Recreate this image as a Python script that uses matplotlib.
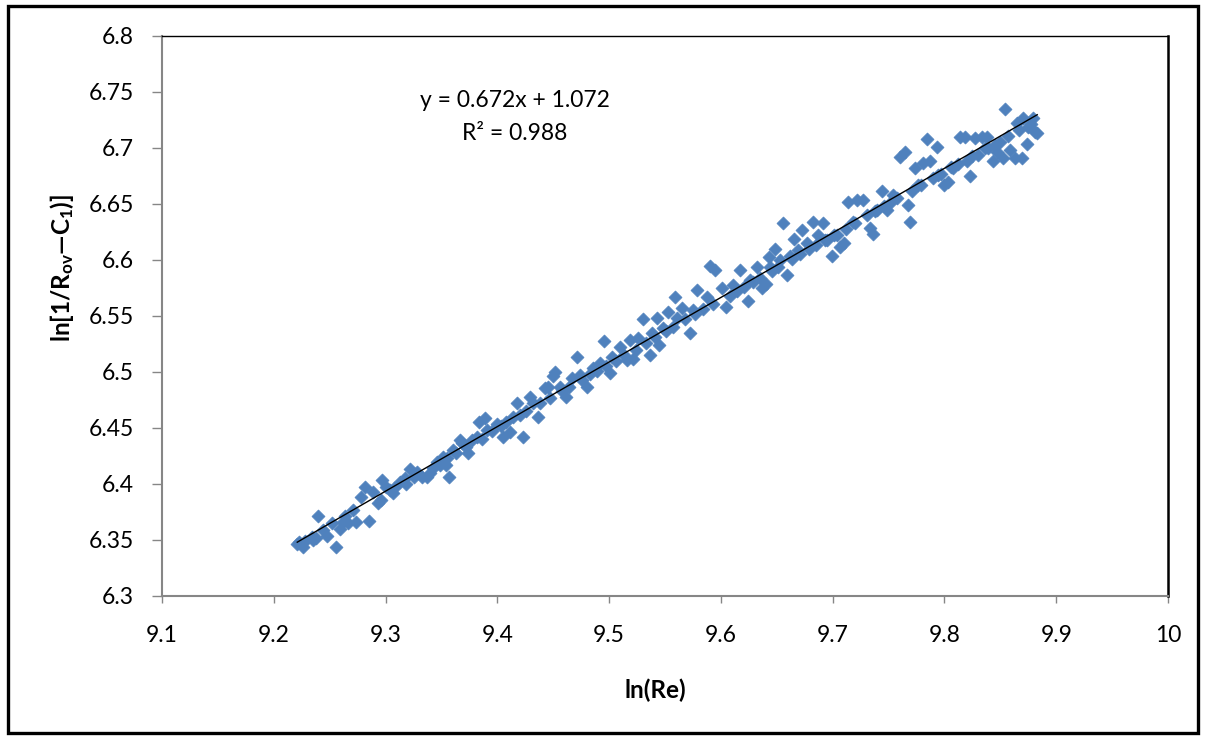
import numpy as np
import matplotlib
matplotlib.use("Agg")
import matplotlib.pyplot as plt
from matplotlib.patches import Rectangle

plt.rcParams['font.family'] = ['Lato', 'DejaVu Sans']
plt.rcParams['mathtext.fontset'] = 'custom'
plt.rcParams['mathtext.rm'] = 'Lato'
plt.rcParams['mathtext.bf'] = 'Lato:bold'
plt.rcParams['mathtext.default'] = 'bf'

# points: ln(Re) and ln[1/(Rov - C1)]
ln_re = [
    9.221, 9.226, 9.223, 9.235, 9.234, 9.240, 9.244, 9.248, 9.252, 9.256,
    9.259, 9.264, 9.266, 9.271, 9.274, 9.278, 9.282, 9.285, 9.289, 9.293,
    9.297, 9.300, 9.307, 9.308, 9.313, 9.317, 9.322, 9.328, 9.333, 9.337,
    9.342, 9.346, 9.349, 9.351, 9.354, 9.357, 9.360, 9.367, 9.368, 9.374,
    9.377, 9.382, 9.384, 9.389, 9.391,
    9.400, 9.405, 9.411, 9.414, 9.418, 9.423, 9.429, 9.432, 9.436, 9.443,
    9.445, 9.450, 9.452, 9.456, 9.461, 9.467, 9.471, 9.474, 9.480, 9.486,
    9.492, 9.495, 9.501, 9.503, 9.510, 9.516, 9.519, 9.521, 9.526, 9.530,
    9.537, 9.538, 9.543, 9.545, 9.548, 9.553, 9.559, 9.561, 9.565, 9.572,
    9.575, 9.579,
    9.588, 9.590, 9.595, 9.601, 9.605, 9.611, 9.617, 9.624, 9.626, 9.632,
    9.637, 9.640, 9.644, 9.643, 9.648, 9.653, 9.656, 9.659, 9.662, 9.665,
    9.669, 9.673, 9.677, 9.682, 9.687, 9.691, 9.695, 9.699, 9.704, 9.707,
    9.710, 9.714, 9.718, 9.722, 9.727, 9.733, 9.736, 9.740, 9.744, 9.749,
    9.754,
    9.760, 9.765, 9.767, 9.769, 9.774, 9.776, 9.781, 9.784, 9.787, 9.793,
    9.794, 9.800, 9.803, 9.808, 9.814, 9.818, 9.820, 9.823, 9.827, 9.830,
    9.834, 9.838, 9.839, 9.843, 9.847, 9.850, 9.852, 9.854, 9.859, 9.863,
    9.865, 9.869, 9.870, 9.874, 9.875, 9.879, 9.881, 9.883,
    # dense band along the trend line
    9.228, 9.238, 9.262, 9.296, 9.304, 9.318, 9.325, 9.340, 9.355, 9.363,
    9.372, 9.386, 9.395, 9.403, 9.408, 9.420, 9.426, 9.438, 9.447, 9.458,
    9.464, 9.476, 9.483, 9.489, 9.497, 9.506, 9.513, 9.524, 9.533, 9.541,
    9.551, 9.557, 9.568, 9.577, 9.584, 9.593, 9.608, 9.614, 9.621, 9.629,
    9.635, 9.646, 9.651, 9.664, 9.671, 9.679, 9.685, 9.693, 9.701, 9.712,
    9.720, 9.731, 9.738, 9.746, 9.752, 9.758, 9.771, 9.779, 9.790, 9.797,
    9.806, 9.812, 9.825, 9.836, 9.845, 9.857, 9.867, 9.877,
]
ln_inv = [
    6.346, 6.344, 6.348, 6.350, 6.353, 6.371, 6.359, 6.354, 6.365, 6.344,
    6.360, 6.371, 6.365, 6.377, 6.366, 6.388, 6.397, 6.367, 6.393, 6.383,
    6.404, 6.397, 6.392, 6.396, 6.402, 6.405, 6.413, 6.411, 6.406, 6.406,
    6.414, 6.420, 6.417, 6.424, 6.417, 6.406, 6.430, 6.439, 6.437, 6.428,
    6.439, 6.442, 6.455, 6.459, 6.448,
    6.454, 6.442, 6.446, 6.460, 6.472, 6.442, 6.478, 6.472, 6.460, 6.486,
    6.487, 6.496, 6.500, 6.487, 6.478, 6.495, 6.513, 6.497, 6.487, 6.504,
    6.508, 6.528, 6.499, 6.513, 6.522, 6.511, 6.529, 6.512, 6.530, 6.547,
    6.515, 6.535, 6.548, 6.524, 6.539, 6.554, 6.567, 6.548, 6.557, 6.535,
    6.555, 6.573,
    6.567, 6.595, 6.591, 6.575, 6.558, 6.578, 6.591, 6.563, 6.582, 6.594,
    6.575, 6.579, 6.594, 6.603, 6.610, 6.600, 6.633, 6.587, 6.604, 6.619,
    6.609, 6.627, 6.615, 6.634, 6.622, 6.633, 6.618, 6.604, 6.622, 6.612,
    6.615, 6.652, 6.634, 6.654, 6.654, 6.629, 6.623, 6.645, 6.662, 6.645,
    6.658,
    6.692, 6.696, 6.649, 6.634, 6.682, 6.667, 6.687, 6.708, 6.688, 6.701,
    6.676, 6.667, 6.670, 6.682, 6.710, 6.710, 6.688, 6.675, 6.709, 6.694,
    6.710, 6.710, 6.700, 6.688, 6.696, 6.705, 6.691, 6.735, 6.698, 6.691,
    6.722, 6.691, 6.727, 6.704, 6.719, 6.727, 6.714, 6.713,
    6.349, 6.352, 6.366, 6.386, 6.395, 6.400, 6.406, 6.410, 6.423, 6.428,
    6.433, 6.440, 6.447, 6.452, 6.455, 6.462, 6.465, 6.472, 6.477, 6.483,
    6.487, 6.493, 6.498, 6.501, 6.505, 6.510, 6.515, 6.520, 6.526, 6.531,
    6.537, 6.540, 6.547, 6.552, 6.556, 6.561, 6.568, 6.572, 6.576, 6.580,
    6.584, 6.590, 6.594, 6.601, 6.605, 6.610, 6.613, 6.618, 6.622, 6.628,
    6.633, 6.640, 6.644, 6.648, 6.652, 6.655, 6.662, 6.667, 6.673, 6.677,
    6.683, 6.686, 6.693, 6.700, 6.703, 6.711, 6.716, 6.721,
]

x_ticks = [9.1, 9.2, 9.3, 9.4, 9.5, 9.6, 9.7, 9.8, 9.9, 10]
x_tick_labels = ["9.1", "9.2", "9.3", "9.4", "9.5", "9.6", "9.7", "9.8", "9.9", "10"]
y_ticks = [6.3, 6.35, 6.4, 6.45, 6.5, 6.55, 6.6, 6.65, 6.7, 6.75, 6.8]
y_tick_labels = ["6.3", "6.35", "6.4", "6.45", "6.5", "6.55", "6.6", "6.65", "6.7", "6.75", "6.8"]

x = np.array(ln_re)
y = np.array(ln_inv)

fig = plt.figure(figsize=(12.05, 7.36), dpi=100)
ax = fig.add_axes([162/1205, 140/736, 1006/1205, 560/736])

ax.scatter(x, y, marker="D", s=44, color="#4F81BD", edgecolors="#4F81BD",
           linewidths=0.5, zorder=2)

# linear trend line over the data range
coef = np.polyfit(x, y, 1)
xs = np.array([x.min(), x.max()])
ax.plot(xs, np.polyval(coef, xs), color="black", lw=1.0, zorder=3)

ax.set_xlim(9.1, 10)
ax.set_ylim(6.3, 6.8)
ax.set_xticks(x_ticks)
ax.set_xticklabels(x_tick_labels)
ax.set_yticks(y_ticks)
ax.set_yticklabels(y_tick_labels)

for s in ["left", "bottom"]:
    ax.spines[s].set_color("#868686")
    ax.spines[s].set_linewidth(1.5)
ax.spines["top"].set_color("black")
ax.spines["top"].set_linewidth(1.0)
ax.spines["right"].set_color("black")
ax.spines["right"].set_linewidth(1.8)

ax.tick_params(axis="x", direction="out", length=5, width=1, color="#868686",
               labelsize=16.5, pad=16)
ax.tick_params(axis="y", direction="out", length=7, width=1, color="#868686",
               labelsize=16.5, pad=13)

ax.text(0.351, 0.884, "y = 0.672x + 1.072", transform=ax.transAxes,
        ha="center", va="center", fontsize=16.5)
ax.text(0.351, 0.825, "R² = 0.988", transform=ax.transAxes,
        ha="center", va="center", fontsize=16.5)

fig.text(655/1205, 1 - 690/736, "ln(Re)", ha="center", va="center",
         fontsize=17.5, fontweight="bold")
fig.text(62/1205, 1 - 268/736, "ln[1/R$_{ov}$—C$_{1}$)]", ha="center", va="center",
         rotation=90, fontsize=17.5, fontweight="bold")

# outer chart border
fig.patches.append(Rectangle((8/1205, 3/736), 1190/1205, 727/736, fill=False,
                             edgecolor="black", lw=2.4, transform=fig.transFigure))

fig.savefig("out.png", dpi=100)
